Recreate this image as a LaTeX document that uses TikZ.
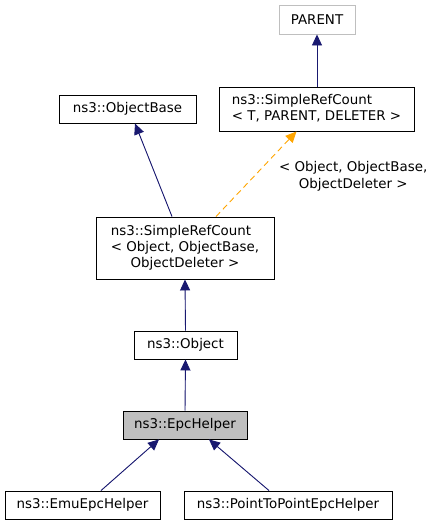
\documentclass[tikz,border=0pt]{standalone}
\usepackage{fontspec}
\setmainfont{DejaVu Sans}
\usetikzlibrary{arrows.meta}
\definecolor{edgeblue}{HTML}{191970}
\definecolor{tmplorange}{HTML}{FFA500}
\definecolor{hilite}{HTML}{BFBFBF}
\begin{document}
\begin{tikzpicture}[x=1pt,y=-1pt,
  cls/.style={draw=black, line width=0.9pt, inner sep=0pt, fill=white,
    font=\fontsize{13.4}{17}\selectfont, align=center},
  inherit/.style={draw=edgeblue, line width=0.9pt,
    -{Triangle[length=11pt,width=10pt]}, fill=edgeblue},
  tmpl/.style={draw=tmplorange, line width=0.9pt, dashed,
    dash pattern=on 6pt off 4pt,
    -{Triangle[length=11pt,width=10pt,fill=tmplorange]}},
  lbl/.style={font=\fontsize{13.4}{17}\selectfont, align=center, inner sep=0pt}]
\useasboundingbox (0,0) rectangle (436,525);

\node[cls, draw=hilite, minimum width=76pt, minimum height=29pt] (parent) at (317,19.5) {PARENT};
\node[cls, minimum width=195pt, minimum height=44pt] (srct) at (316.5,109)
  {\begin{tabular}{@{}l@{}}ns3::SimpleRefCount\\[-1pt]{}< T, PARENT, DELETER >\end{tabular}};
\node[cls, minimum width=137pt, minimum height=28pt] (obase) at (127.5,109) {ns3::ObjectBase};
\node[cls, minimum width=178pt, minimum height=62pt] (srco) at (185,248)
  {\begin{tabular}{@{}c@{}}\multicolumn{1}{@{}l@{}}{ns3::SimpleRefCount}\\[-1pt]{}< Object, ObjectBase,\\[-1pt]ObjectDeleter >\end{tabular}};
\node[cls, minimum width=103pt, minimum height=28pt] (object) at (185.5,345) {ns3::Object};
\node[cls, fill=hilite, minimum width=124pt, minimum height=28pt] (epc) at (185,425) {ns3::EpcHelper};
\node[cls, minimum width=155pt, minimum height=28pt] (emu) at (82.5,505) {ns3::EmuEpcHelper};
\node[cls, minimum width=208pt, minimum height=28pt] (p2p) at (288,505) {ns3::PointToPointEpcHelper};

\draw[inherit] (srct.north -| parent.south) -- (parent.south);
\draw[inherit] ([xshift=-13pt]srco.north) -- ([xshift=7.5pt]obase.south);
\draw[tmpl] ([xshift=31pt]srco.north) -- ([xshift=-20pt]srct.south)
  node[lbl, pos=0.5, xshift=97pt, yshift=-2pt] (tlabel) {< Object, ObjectBase,\\ObjectDeleter >};
\draw[inherit] (object.north) -- (srco.south);
\draw[inherit] (epc.north) -- (object.south);
\draw[inherit] ([xshift=18.5pt]emu.north) -- ([xshift=-26pt]epc.south);
\draw[inherit] ([xshift=-19pt]p2p.north) -- ([xshift=24pt]epc.south);
\end{tikzpicture}
\end{document}
